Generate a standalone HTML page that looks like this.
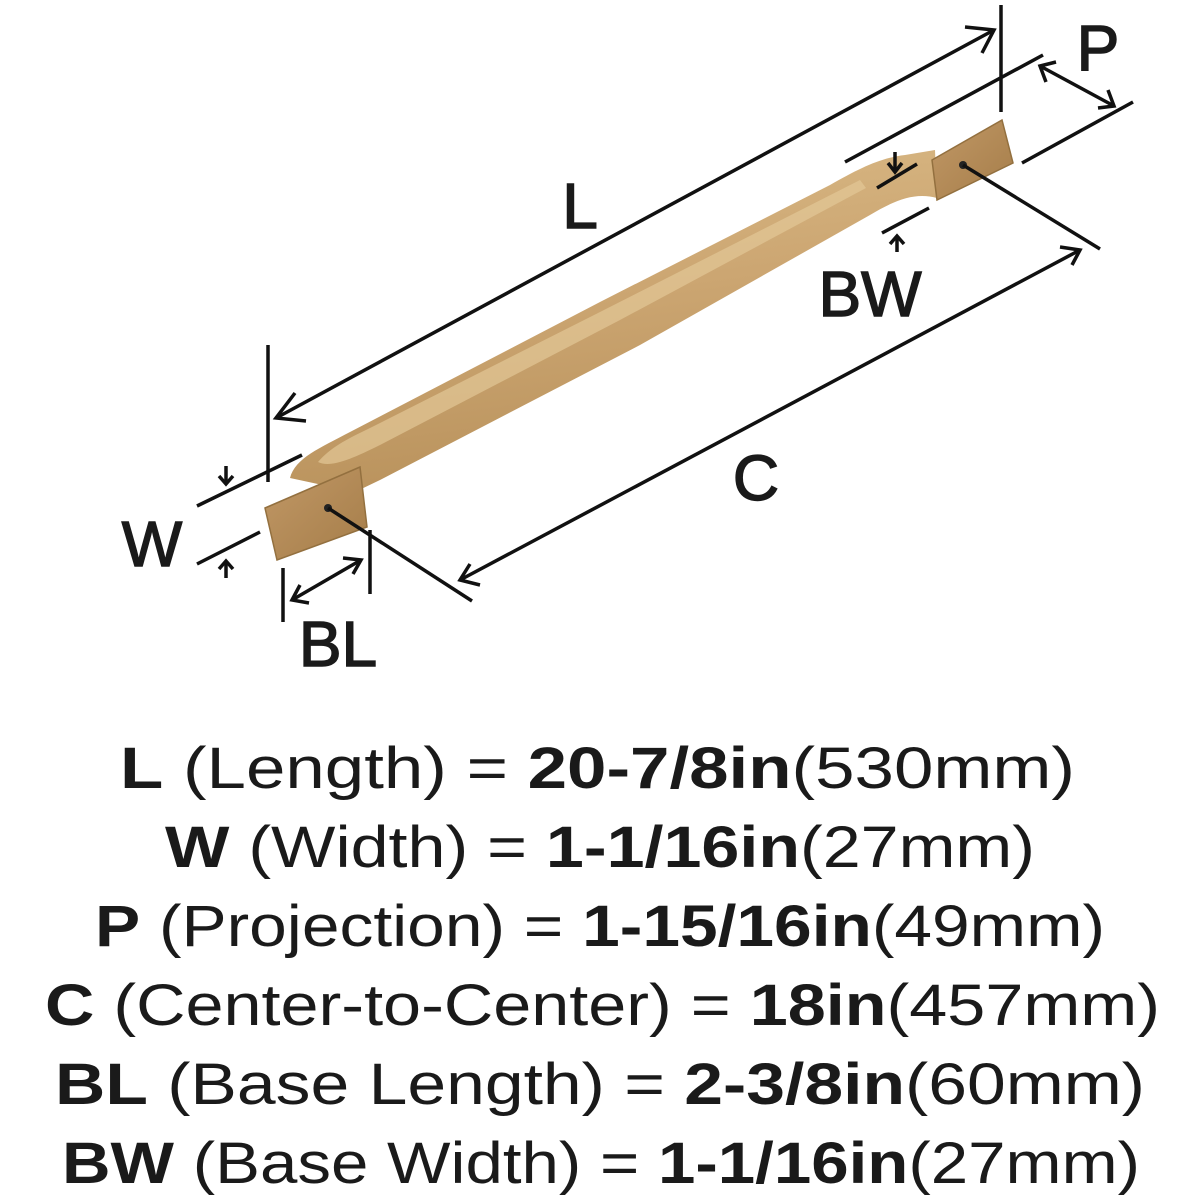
<!DOCTYPE html>
<html><head><meta charset="utf-8"><style>html,body{margin:0;padding:0;background:#fff}svg{display:block}</style></head>
<body>
<svg width="1200" height="1200" viewBox="0 0 1200 1200" xmlns="http://www.w3.org/2000/svg">
<defs>
<linearGradient id="bar" x1="0" y1="0" x2="0.25" y2="1">
<stop offset="0" stop-color="#dcbd89"/><stop offset="0.5" stop-color="#cca672"/><stop offset="1" stop-color="#b9925c"/></linearGradient>
<linearGradient id="base" x1="0" y1="0" x2="1" y2="1">
<stop offset="0" stop-color="#c19866"/><stop offset="1" stop-color="#a57d49"/></linearGradient>
</defs>
<!-- handle bar -->
<path d="M290,478 C295,458 320,448 350,432 L600,302 L830,185 C860,168 880,158 905,155 L935,150 L937,198 C915,192 895,200 870,215 L640,345 L380,480 L355,492 Z" fill="url(#bar)"/>
<path d="M318,462 C330,448 345,440 370,428 L600,312 L860,180 L866,188 L620,320 L380,445 C350,460 330,468 318,462 Z" fill="#e2c797" opacity="0.7"/>
<!-- bases -->
<polygon points="265,508 360,467 367,527 277,560" fill="url(#base)" stroke="#93703f" stroke-width="1.5"/>
<polygon points="932,160 1002,120 1013,163 937,200" fill="url(#base)" stroke="#93703f" stroke-width="1.5"/>
<circle cx="328" cy="508" r="4" fill="#222"/>
<circle cx="963" cy="165" r="4" fill="#222"/>
<g stroke="#111" stroke-width="3.5" fill="none" stroke-linecap="butt">
<!-- L -->
<line x1="268" y1="345" x2="268" y2="482"/>
<line x1="1001" y1="5" x2="1001" y2="112"/>
<line x1="276" y1="418" x2="994" y2="30"/>
<polyline points="295,393 276,418 306,421"/>
<polyline points="965,27 994,30 982,53"/>
<!-- W -->
<line x1="197" y1="506" x2="302" y2="455"/>
<line x1="197" y1="564" x2="260" y2="532"/>
<line x1="226" y1="466" x2="226" y2="484"/>
<polyline points="219,476 226,484 233,476"/>
<line x1="226" y1="561" x2="226" y2="578"/>
<polyline points="219,569 226,561 233,569"/>
<!-- BL -->
<line x1="283" y1="568" x2="283" y2="622"/>
<line x1="370" y1="530" x2="370" y2="594"/>
<line x1="292" y1="600" x2="361" y2="560"/>
<polyline points="309,603 292,600 300,585"/>
<polyline points="343,558 361,560 353,574"/>
<!-- C -->
<line x1="328" y1="508" x2="472" y2="601"/>
<line x1="963" y1="165" x2="1100" y2="249"/>
<line x1="460" y1="580" x2="1080" y2="250"/>
<polyline points="470,564 460,580 480,585"/>
<polyline points="1060,247 1080,250 1072,265"/>
<!-- P -->
<line x1="845" y1="162" x2="1043" y2="55"/>
<line x1="1022" y1="163" x2="1133" y2="102"/>
<line x1="1040" y1="66" x2="1114" y2="106"/>
<polyline points="1056,62 1040,66 1046,82"/>
<polyline points="1098,108 1114,106 1108,90"/>
<!-- BW -->
<line x1="877" y1="188" x2="917" y2="164"/>
<line x1="895" y1="152" x2="895" y2="172"/>
<polyline points="888,163 895,172 902,163"/>
<line x1="882" y1="233" x2="929" y2="208"/>
<line x1="897" y1="236" x2="897" y2="252"/>
<polyline points="890,244 897,236 904,244"/>
</g>
<g font-family="Liberation Sans, sans-serif" font-size="64" fill="#1a1a1a" stroke="#1a1a1a" stroke-width="1.5">
<text x="580" y="228" text-anchor="middle">L</text>
<text x="1098" y="70" text-anchor="middle">P</text>
<text x="870" y="316" text-anchor="middle">BW</text>
<text x="756" y="500" text-anchor="middle">C</text>
<text x="152" y="566" text-anchor="middle">W</text>
<text x="338" y="666" text-anchor="middle">BL</text>
</g>
<g font-family="Liberation Sans, sans-serif" font-size="58" fill="#1a1a1a">
<text x="120" y="788" textLength="955" lengthAdjust="spacingAndGlyphs"><tspan font-weight="bold">L</tspan> (Length) = <tspan font-weight="bold">20-7/8in</tspan>(530mm)</text>
<text x="165" y="867" textLength="870" lengthAdjust="spacingAndGlyphs"><tspan font-weight="bold">W</tspan> (Width) = <tspan font-weight="bold">1-1/16in</tspan>(27mm)</text>
<text x="95" y="946" textLength="1010" lengthAdjust="spacingAndGlyphs"><tspan font-weight="bold">P</tspan> (Projection) = <tspan font-weight="bold">1-15/16in</tspan>(49mm)</text>
<text x="45" y="1025" textLength="1115" lengthAdjust="spacingAndGlyphs"><tspan font-weight="bold">C</tspan> (Center-to-Center) = <tspan font-weight="bold">18in</tspan>(457mm)</text>
<text x="55" y="1104" textLength="1090" lengthAdjust="spacingAndGlyphs"><tspan font-weight="bold">BL</tspan> (Base Length) = <tspan font-weight="bold">2-3/8in</tspan>(60mm)</text>
<text x="62" y="1183" textLength="1078" lengthAdjust="spacingAndGlyphs"><tspan font-weight="bold">BW</tspan> (Base Width) = <tspan font-weight="bold">1-1/16in</tspan>(27mm)</text>
</g>
</svg>
</body></html>
